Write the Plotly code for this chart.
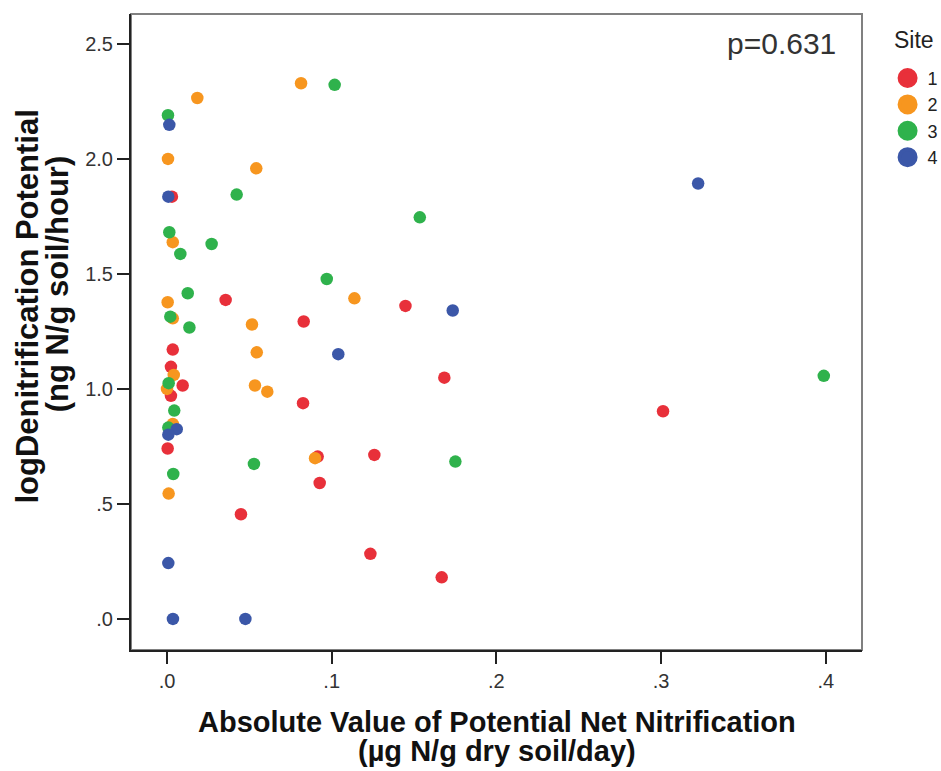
import plotly.graph_objects as go

# ---- data ----
sites = ["1", "2", "3", "4"]
site_colors = ["#e8303a", "#f7961f", "#2fb24c", "#3b57a8"]

site1_x = [0.003, 0.0356, 0.083, 0.0035, 0.0024, 0.0095, 0.0024, 0.0826, 0.0004, 0.0915,
           0.0927, 0.0449, 0.1448, 0.1684, 0.1259, 0.1235, 0.1668, 0.3012]
site1_y = [1.836, 1.387, 1.293, 1.171, 1.096, 1.015, 0.970, 0.938, 0.741, 0.706,
           0.591, 0.455, 1.361, 1.049, 0.713, 0.283, 0.181, 0.903]

site2_x = [0.0814, 0.0184, 0.0006, 0.0542, 0.0035, 0.0004, 0.1138, 0.0035, 0.0516, 0.0545,
           0.0041, 0.0, 0.0534, 0.0609, 0.0035, 0.0899, 0.001]
site2_y = [2.329, 2.265, 2.000, 1.959, 1.638, 1.377, 1.394, 1.307, 1.280, 1.159,
           1.061, 1.000, 1.015, 0.988, 0.848, 0.699, 0.545]

site3_x = [0.1018, 0.0006, 0.0423, 0.0014, 0.0271, 0.0081, 0.097, 0.0126, 0.002, 0.0136,
           0.001, 0.0044, 0.0008, 0.0528, 0.0038, 0.1535, 0.1751, 0.3988]
site3_y = [2.322, 2.190, 1.845, 1.681, 1.630, 1.587, 1.478, 1.416, 1.314, 1.267,
           1.025, 0.906, 0.832, 0.674, 0.630, 1.746, 0.684, 1.057]

site4_x = [0.0014, 0.0008, 0.104, 0.0059, 0.0008, 0.0008, 0.0036, 0.0476, 0.1735, 0.3225]
site4_y = [2.148, 1.836, 1.151, 0.825, 0.801, 0.243, 0.0, 0.0, 1.341, 1.893]

x_tickvals = [0.0, 0.1, 0.2, 0.3, 0.4]
x_ticktext = [".0", ".1", ".2", ".3", ".4"]
y_tickvals = [0.0, 0.5, 1.0, 1.5, 2.0, 2.5]
y_ticktext = [".0", ".5", "1.0", "1.5", "2.0", "2.5"]

p_text = "p=0.631"
legend_title = "Site"
x_title_lines = ["Absolute Value of Potential Net Nitrification", "(µg N/g dry soil/day)"]
y_title_lines = ["logDenitrification Potential", "(ng N/g soil/hour)"]

FONT = "Liberation Sans, Arial, sans-serif"
TITLE_FONT = dict(size=29, color="#111", family=FONT, weight="bold")
Y_TITLE_FONT = dict(size=31, color="#111", family=FONT, weight="bold")

fig = go.Figure()
series = [(site1_x, site1_y), (site2_x, site2_y), (site3_x, site3_y), (site4_x, site4_y)]
for name, color, (xs, ys) in zip(sites, site_colors, series):
    fig.add_trace(go.Scatter(
        x=xs, y=ys, mode="markers", name=name, showlegend=False,
        marker=dict(size=12.5, color=color, line=dict(width=0)),
    ))
for name, color in zip(sites, site_colors):
    fig.add_trace(go.Scatter(
        x=[None], y=[None], mode="markers", name=name, showlegend=True,
        marker=dict(size=16, color=color, line=dict(width=4, color=color)),
    ))

annotations = [
    dict(text=p_text, xref="paper", yref="paper", x=0.967, y=0.953,
         xanchor="right", yanchor="middle", showarrow=False,
         font=dict(size=30, color="#333")),
    dict(text=legend_title, xref="paper", yref="paper", x=1.041, y=0.959,
         xanchor="left", yanchor="middle", showarrow=False,
         font=dict(size=23, color="#222")),
    dict(text=x_title_lines[0], xref="paper", yref="paper", x=0.5, y=-0.1132,
         xanchor="center", yanchor="middle", showarrow=False, font=TITLE_FONT),
    dict(text=x_title_lines[1], xref="paper", yref="paper", x=0.5, y=-0.1588,
         xanchor="center", yanchor="middle", showarrow=False, font=TITLE_FONT),
    dict(text=y_title_lines[0], xref="paper", yref="paper", x=-0.1409, y=0.54,
         xanchor="center", yanchor="middle", showarrow=False, textangle=-90, font=Y_TITLE_FONT),
    dict(text=y_title_lines[1], xref="paper", yref="paper", x=-0.1012, y=0.575,
         xanchor="center", yanchor="middle", showarrow=False, textangle=-90, font=Y_TITLE_FONT),
]

fig.update_layout(
    width=941, height=771,
    margin=dict(l=131, r=79, t=14, b=121, autoexpand=False),
    paper_bgcolor="white", plot_bgcolor="white",
    font=dict(family=FONT, color="#222"),
    legend=dict(
        font=dict(size=18, color="#222"),
        x=1.035, xanchor="left", y=0.928, yanchor="top",
        bgcolor="rgba(0,0,0,0)", itemclick=False,
    ),
    shapes=[dict(type="rect", xref="paper", yref="paper", x0=0, x1=1, y0=0, y1=1,
                 line=dict(color="#808080", width=2), layer="below")],
    annotations=annotations,
)
fig.update_xaxes(
    range=[-0.02186, 0.4220], tickvals=x_tickvals, ticktext=x_ticktext,
    showgrid=False, zeroline=False, showline=True, linecolor="#222", linewidth=2,
    ticks="outside", ticklen=12, tickwidth=2, tickcolor="#222",
    tickfont=dict(size=20, color="#333"),
)
fig.update_yaxes(
    range=[-0.135, 2.630], tickvals=y_tickvals, ticktext=y_ticktext,
    showgrid=False, zeroline=False, showline=True, linecolor="#222", linewidth=2,
    ticks="outside", ticklen=12, tickwidth=2, tickcolor="#222",
    tickfont=dict(size=20, color="#333"),
)

fig.write_html("out.html")
